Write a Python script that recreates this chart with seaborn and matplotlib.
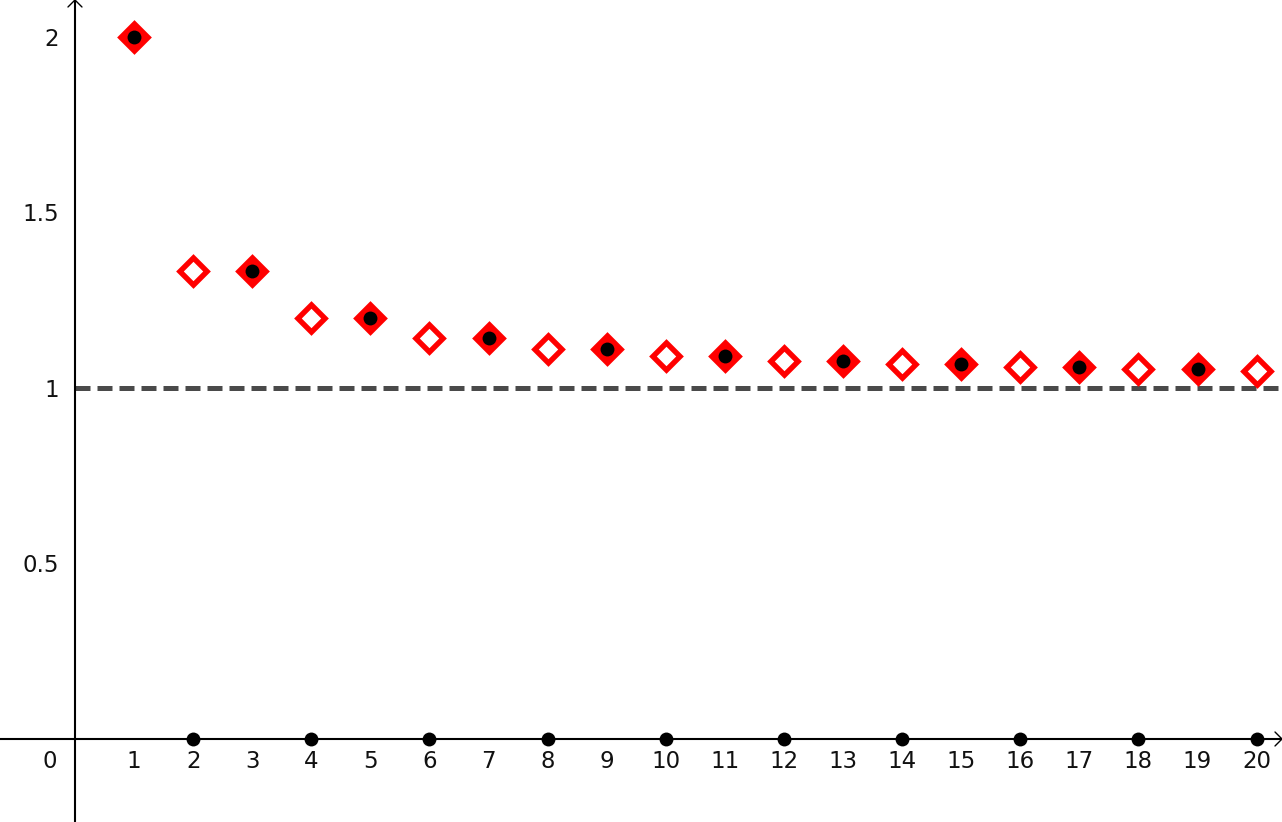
import matplotlib
matplotlib.use("Agg")
import matplotlib.pyplot as plt
import seaborn as sns
import pandas as pd

# ---- data ----
n_odd = [1, 3, 5, 7, 9, 11, 13, 15, 17, 19]
a_odd = [2.0, 1.3333, 1.2, 1.1429, 1.1111, 1.0909, 1.0769, 1.0667, 1.0588, 1.0526]
n_even = [2, 4, 6, 8, 10, 12, 14, 16, 18, 20]
a_even = [1.3333, 1.2, 1.1429, 1.1111, 1.0909, 1.0769, 1.0667, 1.0588, 1.0526, 1.0476]
zero_vals = [0, 0, 0, 0, 0, 0, 0, 0, 0, 0]
limit_value = 1.0
x_ticks = list(range(-1, 21))
x_tick_labels = ["", ""] + [str(i) for i in range(1, 21)]
y_ticks = [0.5, 1.0, 1.5, 2.0]
y_tick_labels = ["0.5", "1", "1.5", "2"]

sns.set_style("white")
plt.rcParams["font.family"] = ["DejaVu Sans"]

fig = plt.figure(figsize=(12.82, 8.22), dpi=100)
ax = fig.add_axes([0, 0, 1, 1])

XMIN, XMAX = -1.269, 20.43
YMIN, YMAX = -0.2364, 2.1045
ax.set_xlim(XMIN, XMAX)
ax.set_ylim(YMIN, YMAX)

df_odd = pd.DataFrame({"n": n_odd, "a": a_odd})
df_even = pd.DataFrame({"n": n_even, "a": a_even})
df_zero = pd.DataFrame({"n": n_even, "a": zero_vals})

# dashed limit line
ax.hlines(limit_value, 0, XMAX, colors="#4a4a4a", linewidth=3.6,
          linestyles=(0, (3.0, 1.4)), zorder=2)

n_before = len(ax.collections)
# hollow diamonds (even n)
sns.scatterplot(data=df_even, x="n", y="a", ax=ax, marker="D", s=190,
                facecolor="white", edgecolor="#ff0000", linewidth=3.9,
                zorder=4, legend=False)
# filled diamonds (odd n)
sns.scatterplot(data=df_odd, x="n", y="a", ax=ax, marker="D", s=190,
                color="#ff0000", edgecolor="#ff0000", linewidth=3.9,
                zorder=4, legend=False)
for coll in ax.collections[n_before:]:
    coll.set_joinstyle("miter")

# black dots on odd diamonds
sns.scatterplot(data=df_odd, x="n", y="a", ax=ax, marker="o", s=100,
                color="black", edgecolor="black", linewidth=0,
                zorder=5, legend=False)
# black dots on x-axis for even n
sns.scatterplot(data=df_zero, x="n", y="a", ax=ax, marker="o", s=100,
                color="black", edgecolor="black", linewidth=0,
                zorder=5, legend=False, clip_on=False)

# axes through origin
for side in ["top", "right"]:
    ax.spines[side].set_visible(False)
ax.spines["left"].set_position(("data", 0))
ax.spines["bottom"].set_position(("data", 0))
for side in ["left", "bottom"]:
    ax.spines[side].set_linewidth(1.5)
    ax.spines[side].set_color("black")
    ax.spines[side].set_zorder(3)

FS = 16.5
ax.set_xticks(x_ticks)
ax.set_xticklabels(x_tick_labels)
ax.set_yticks(y_ticks)
ax.set_yticklabels(y_tick_labels)
ax.tick_params(axis="x", direction="out", length=3.6, width=1.2, pad=4,
               labelsize=FS, colors="black")
ax.tick_params(axis="y", direction="out", length=4.5, width=1.2, pad=7,
               labelsize=FS, colors="black")
for lab in ax.get_xticklabels() + ax.get_yticklabels():
    lab.set_color("#111111")

ax.annotate("0", xy=(0, 0), xytext=(-13, -8), textcoords="offset points",
            ha="right", va="top", fontsize=FS, color="#111111")

ax.set_xlabel("")
ax.set_ylabel("")
ax.grid(False)

# axis arrowheads (open chevrons)
dx = 7 / 59.08
dy = 7 / 351.15
ax.plot([-dx, 0, dx], [YMAX - dy, YMAX, YMAX - dy], color="black",
        linewidth=1.0, clip_on=False, zorder=6)
ax.plot([XMAX - dx, XMAX, XMAX - dx], [dy, 0, -dy], color="black",
        linewidth=1.0, clip_on=False, zorder=6)

fig.savefig("out.png", dpi=100)
